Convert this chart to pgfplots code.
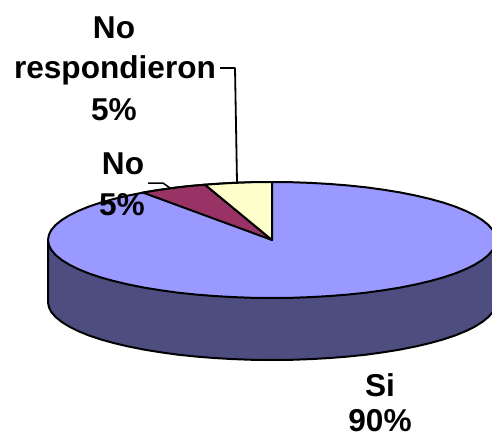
\documentclass[border=0pt]{standalone}
\usepackage{pgfplots}
\pgfplotsset{compat=1.18}
\usepackage{fontspec}
\setmainfont{Liberation Sans}
\definecolor{topblue}{HTML}{9999FF}
\definecolor{sideblue}{HTML}{4D4D80}
\definecolor{plum}{HTML}{993366}
\definecolor{cream}{HTML}{FFFFCC}
\newcommand{\lab}[3]{\node[anchor=base,inner sep=0pt,font=\fontsize{31.6}{36}\selectfont\bfseries,text=black] at (axis cs:#1,#2) {#3};}
\begin{document}
\begin{tikzpicture}
\begin{axis}[
  scale only axis, width=492pt, height=439pt,
  xmin=0, xmax=492, ymin=0, ymax=439, y dir=reverse,
  hide axis, clip=true, line join=round,
]
% page background
\addplot[draw=none,fill=white] coordinates {(0,0) (492,0) (492,439) (0,439)} --cycle;
% side of the disc
\addplot[draw=black,line width=2pt,fill=sideblue] coordinates {
(48,240) (48,302) (48.9,307.1) (51.4,312.1) (55.6,317) (61.5,321.8) (69,326.5) (78,331) (88.5,335.3) (100.4,339.3) (113.6,343) (128,346.4) (143.5,349.5) (160,352.2) (177.3,354.6) (195.4,356.5) (214,358) (233.1,359.1) (252.5,359.8) (272,360)
(291.5,359.8) (310.9,359.1) (330,358) (348.6,356.5) (366.7,354.6) (384,352.2) (400.5,349.5) (416,346.4) (430.4,343) (443.6,339.3) (455.5,335.3) (466,331) (475,326.5) (482.5,321.8) (488.4,317) (492.6,312.1) (495.1,307.1) (496,302) (496,240)
} --cycle;
% top of the disc
\addplot[draw=black,line width=2pt,fill=topblue] coordinates {
(496,240) (495.1,234.9) (492.6,229.9) (488.4,225) (482.5,220.2) (475,215.5) (466,211) (455.5,206.7) (443.6,202.7) (430.4,199) (416,195.6) (400.5,192.5) (384,189.8) (366.7,187.4) (348.6,185.5) (330,184) (310.9,182.9) (291.5,182.2) (272,182)
(252.5,182.2) (233.1,182.9) (214,184) (195.4,185.5) (177.3,187.4) (160,189.8) (143.5,192.5) (128,195.6) (113.6,199) (100.4,202.7) (88.5,206.7) (78,211) (69,215.5) (61.5,220.2) (55.6,225) (51.4,229.9) (48.9,234.9) (48,240)
(48.9,245.1) (51.4,250.1) (55.6,255) (61.5,259.8) (69,264.5) (78,269) (88.5,273.3) (100.4,277.3) (113.6,281) (128,284.4) (143.5,287.5) (160,290.2) (177.3,292.6) (195.4,294.5) (214,296) (233.1,297.1) (252.5,297.8) (272,298)
(291.5,297.8) (310.9,297.1) (330,296) (348.6,294.5) (366.7,292.6) (384,290.2) (400.5,287.5) (416,284.4) (430.4,281) (443.6,277.3) (455.5,273.3) (466,269) (475,264.5) (482.5,259.8) (488.4,255) (492.6,250.1) (495.1,245.1)
} --cycle;
% slices
\addplot[draw=black,line width=2pt,fill=plum] coordinates {
(272,240) (143,192.6) (156.6,190.3) (173.8,187.9) (188,186.2) (205,184.7)
} --cycle;
\addplot[draw=black,line width=2pt,fill=cream] coordinates {
(272,240) (205,184.7) (229.2,183.1) (252.5,182.2) (272,182)
} --cycle;
% leader lines
\addplot[draw=black,line width=1.8pt] coordinates {(220,68) (235,68) (237,182)};
\addplot[draw=black,line width=1.5pt] coordinates {(148,183) (163,183) (170,188)};
\lab{114}{38}{No}
\lab{115}{78}{respondieron}
\lab{114}{120}{5\%}
\lab{123}{174}{No}
\lab{122}{215}{5\%}
\lab{380}{396}{Si}
\lab{380}{431}{90\%}
\end{axis}
\end{tikzpicture}
\end{document}
